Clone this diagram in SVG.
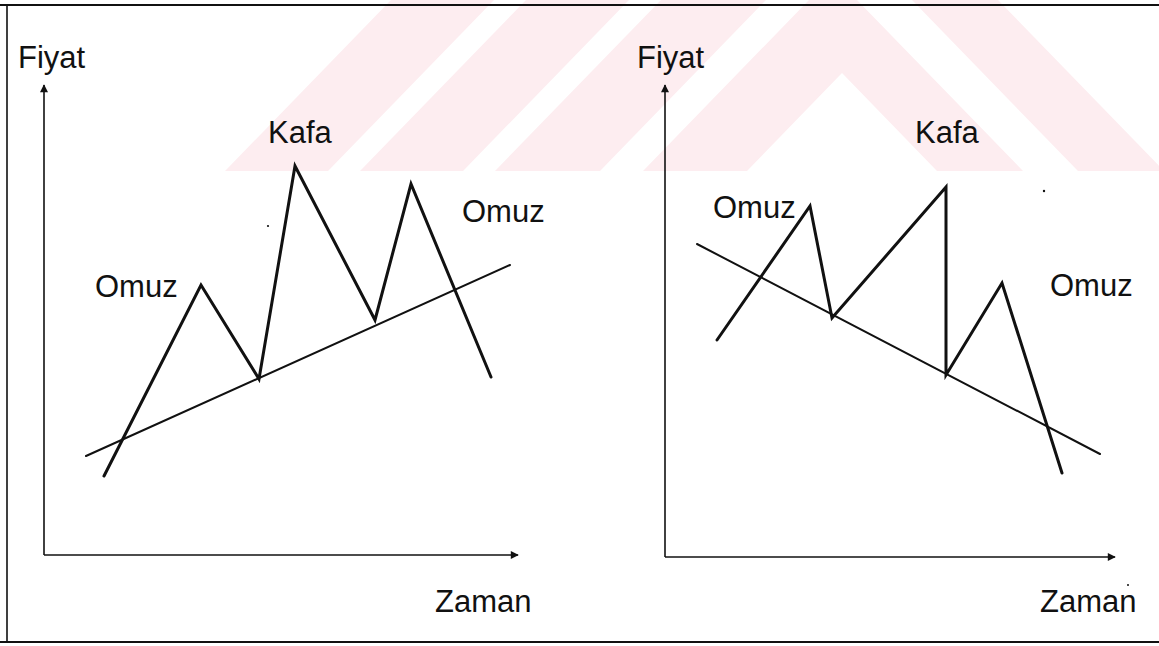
<svg xmlns="http://www.w3.org/2000/svg" width="1159" height="646" viewBox="0 0 1159 646">
  <defs>
    <style>
      .wm { fill: #fdedf0; stroke: none; }
      .frame { fill: none; stroke: #111; stroke-width: 1.6; }
      .axis { fill: none; stroke: #111; stroke-width: 1.6; }
      .price { fill: none; stroke: #111; stroke-width: 3; stroke-linejoin: miter; stroke-linecap: round; }
      .neck { fill: none; stroke: #111; stroke-width: 2; stroke-linecap: round; }
      .lbl { font-family: "Liberation Sans", Arial, sans-serif; font-size: 31px; fill: #111; }
      .speck { fill: #111; }
    </style>
    <marker id="arr" viewBox="0 0 10 10" refX="9" refY="5" markerWidth="9" markerHeight="8" markerUnits="userSpaceOnUse" orient="auto">
      <path d="M0,0 L10,5 L0,10 z" fill="#111"/>
    </marker>
    <clipPath id="wmclip"><rect x="0" y="0" width="1159" height="171"/></clipPath>
  </defs>
  <rect x="0" y="0" width="1159" height="646" fill="#ffffff"/>

  <g id="watermark" clip-path="url(#wmclip)">
    <polygon class="wm" points="225,171 328,171 494,0 391,0"/>
    <polygon class="wm" points="360,171 463,171 629,0 526,0"/>
    <polygon class="wm" points="495,171 600,171 766,0 661,0"/>
    <polygon class="wm" points="643,171 809,0 857,0 1023,171 937,171 842,73 747,171"/>
    <polygon class="wm" points="1078,171 1164,171 998,0 912,0"/>
  </g>

  <g id="frame">
    <polyline class="frame" points="1159,5 7,5 7,642 1159,642"/>
    <line x1="0" y1="5" x2="1159" y2="5" stroke="#111" stroke-width="2.2"/>
    <line x1="0" y1="642" x2="1159" y2="642" stroke="#111" stroke-width="2"/>
  </g>

  <g id="chart-left">
    <g id="left-axes">
      <line class="axis" x1="44" y1="555" x2="44" y2="85" marker-end="url(#arr)"/>
      <line class="axis" x1="44" y1="555" x2="518" y2="555" marker-end="url(#arr)"/>
    </g>
    <g id="left-connectors">
      <polyline class="price" points="104,476 201,285 259,379 295,166 375,320 411,184 491,377"/>
      <line class="neck" x1="86" y1="456" x2="510" y2="265"/>
    </g>
    <g id="left-labels">
      <text class="lbl" x="18" y="68">Fiyat</text>
      <text class="lbl" x="268" y="143">Kafa</text>
      <text class="lbl" x="462" y="222">Omuz</text>
      <text class="lbl" x="95" y="297">Omuz</text>
      <text class="lbl" x="435" y="612">Zaman</text>
    </g>
    <circle class="speck" cx="268" cy="226" r="1.1"/>
  </g>

  <g id="chart-right">
    <g id="right-axes">
      <line class="axis" x1="665" y1="557" x2="665" y2="85" marker-end="url(#arr)"/>
      <line class="axis" x1="665" y1="557" x2="1115" y2="557" marker-end="url(#arr)"/>
    </g>
    <g id="right-connectors">
      <polyline class="price" points="717,340 810,206 832,318 946,187 946,375 1002,283 1062,473"/>
      <line class="neck" x1="697" y1="244" x2="1100" y2="454"/>
    </g>
    <g id="right-labels">
      <text class="lbl" x="637" y="68">Fiyat</text>
      <text class="lbl" x="915" y="143">Kafa</text>
      <text class="lbl" x="713" y="218">Omuz</text>
      <text class="lbl" x="1050" y="296">Omuz</text>
      <text class="lbl" x="1040" y="612">Zaman</text>
    </g>
    <circle class="speck" cx="1044" cy="191" r="1.2"/>
    <circle class="speck" cx="1128" cy="585" r="1"/>
  </g>
</svg>
